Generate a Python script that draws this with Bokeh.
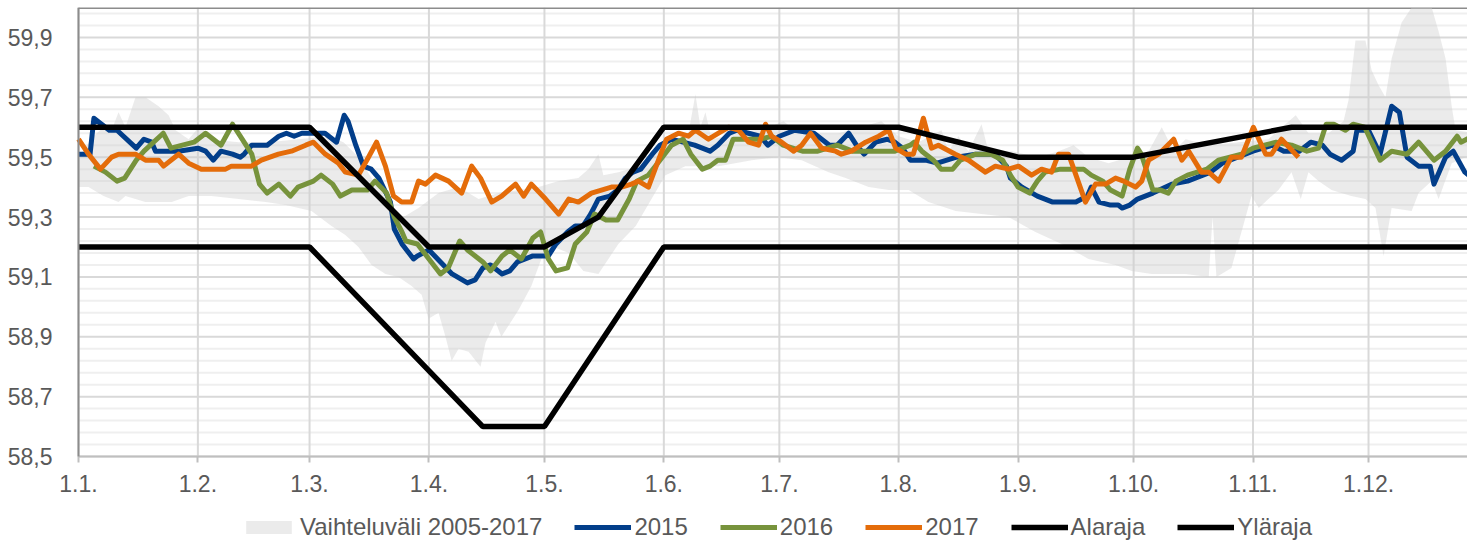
from bokeh.plotting import figure
from bokeh.models import Range1d, FixedTicker, CustomJSTickFormatter, Legend, LegendItem
from bokeh.embed import file_html
from bokeh.resources import INLINE

# ---------------- data (day of year, value in Hz) ----------------
month_ticks = [0, 31, 60, 91, 121, 152, 182, 213, 244, 274, 305, 335]
month_labels = ["1.1.", "1.2.", "1.3.", "1.4.", "1.5.", "1.6.", "1.7.", "1.8.",
                "1.9.", "1.10.", "1.11.", "1.12."]
y_ticks = [58.5, 58.7, 58.9, 59.1, 59.3, 59.5, 59.7, 59.9]
y_min, y_max = 58.5, 60.0
x_end = 360.7

band_up_day = [0, 3.9, 6.5, 8.3, 10.4, 12.2, 14.8, 17.4, 20.8, 23.4,
               25.2, 28.6, 31.9, 33.8, 41.6, 49.3, 57.1, 64.9, 68.8, 72.7,
               76.6, 80.5, 84.4, 88.3, 93.5, 98.7, 103.9, 109.1, 114.3, 119.5,
               124.7, 129.8, 132.4, 135.0, 136.3, 140.2, 145.4, 150.6, 155.8, 158.4,
               160.2, 161.5, 162.8, 164.4, 171.4, 179.2, 183.1, 187.0, 197.4, 208.5,
               212.9, 218.1, 224.1, 225.9, 228.5, 231.1, 234.5, 236.3, 242.3, 249.3,
               254.5, 258.4, 262.3, 267.5, 272.7, 277.9, 281.3, 284.4, 287.5, 293.5,
               301.3, 309.0, 316.1, 319.4, 324.6, 328.5, 329.8, 331.6, 334.2, 335.8,
               337.6, 339.4, 341.0, 343.6, 346.2, 351.4, 353.2, 355.0, 356.6, 357.6,
               362.8]
band_up_val = [59.50, 59.57, 59.60, 59.58, 59.65, 59.60, 59.70, 59.70, 59.67, 59.64,
               59.59, 59.56, 59.61, 59.56, 59.55, 59.55, 59.56, 59.57, 59.55, 59.50,
               59.42, 59.35, 59.30, 59.33, 59.38, 59.40, 59.36, 59.38, 59.39, 59.40,
               59.42, 59.43, 59.46, 59.51, 59.44, 59.45, 59.47, 59.53, 59.56, 59.58,
               59.71, 59.60, 59.65, 59.56, 59.58, 59.60, 59.62, 59.58, 59.58, 59.62,
               59.57, 59.55, 59.59, 59.52, 59.57, 59.52, 59.61, 59.52, 59.52, 59.50,
               59.52, 59.54, 59.50, 59.48, 59.50, 59.52, 59.60, 59.52, 59.56, 59.54,
               59.55, 59.56, 59.64, 59.58, 59.58, 59.62, 59.69, 59.89, 59.89, 59.79,
               59.74, 59.70, 59.83, 59.95, 60.00, 60.00, 59.92, 59.83, 59.67, 59.59,
               59.58]
band_low_day = [0, 2.6, 6.5, 10.4, 12.2, 17.4, 24.2, 28.6, 34.5, 41.6,
                48.6, 53.8, 60.5, 65.7, 69.3, 72.7, 76.1, 79.7, 83.1, 86.5,
                89.1, 90.9, 93.5, 95.3, 96.9, 98.7, 101.3, 104.4, 105.7, 108.3,
                109.8, 114.3, 117.6, 120.2, 123.4, 127.3, 131.1, 135.0, 137.6, 140.2,
                144.7, 148.8, 152.4, 157.6, 166.2, 174.8, 181.8, 187.8, 194.8, 199.2,
                205.2, 210.4, 215.6, 220.7, 227.8, 234.5, 241.5, 248.5, 255.3, 262.3,
                269.3, 273.5, 278.7, 287.5, 293.5, 294.5, 295.5, 299.4, 302.0, 304.6,
                306.5, 309.0, 311.6, 315.0, 317.4, 319.4, 322.0, 325.4, 330.5, 334.2,
                336.8, 338.9, 341.0, 346.2, 348.0, 351.4, 353.2, 356.6, 360.2, 362.8]
band_low_val = [59.40, 59.40, 59.37, 59.35, 59.37, 59.35, 59.35, 59.37, 59.37, 59.36,
                59.35, 59.34, 59.32, 59.27, 59.24, 59.20, 59.14, 59.11, 59.10, 59.07,
                59.04, 58.96, 58.98, 58.90, 58.82, 58.86, 58.85, 58.80, 58.88, 58.95,
                58.90, 58.99, 59.07, 59.16, 59.20, 59.18, 59.12, 59.11, 59.16, 59.21,
                59.27, 59.36, 59.44, 59.47, 59.47, 59.49, 59.50, 59.49, 59.45, 59.43,
                59.40, 59.39, 59.39, 59.35, 59.32, 59.31, 59.30, 59.25, 59.21, 59.16,
                59.14, 59.12, 59.11, 59.11, 59.10, 59.30, 59.10, 59.13, 59.25, 59.37,
                59.33, 59.36, 59.39, 59.45, 59.36, 59.45, 59.42, 59.39, 59.37, 59.36,
                59.33, 59.17, 59.33, 59.32, 59.38, 59.42, 59.36, 59.48, 59.50, 59.51]

y2015_day = [0, 3, 4, 6, 8, 10, 15, 17, 19, 20, 23, 26, 31, 33, 35, 37, 40, 42, 43, 45,
             49, 52, 54, 56, 58, 61, 64, 67, 69, 70, 72, 74, 76, 78, 81, 82, 84, 87, 88, 91,
             94, 97, 101, 103, 105, 107, 110, 112, 114, 116, 118, 122, 124, 127, 129, 131,
             133, 135, 138, 140, 142, 144, 146, 149, 151, 154, 157, 160, 164, 166, 169, 171,
             174, 177, 179, 182, 186, 191, 195, 197, 200, 202, 204, 207, 210, 212, 214, 216,
             220, 223, 228, 233, 238, 241, 242, 245, 249, 253, 259, 262, 263, 265, 268, 270,
             271, 273, 275, 279, 284, 288, 292, 294, 297, 301, 305, 310, 313, 317, 320, 323,
             325, 328, 331, 332, 335, 338, 341, 343, 345, 348, 351, 352, 355, 357, 360, 363]
y2015_val = [59.51, 59.51, 59.63, 59.61, 59.59, 59.59, 59.53, 59.56, 59.55, 59.52,
             59.52, 59.52, 59.53, 59.52, 59.49, 59.52, 59.51, 59.50, 59.51, 59.54,
             59.54, 59.57, 59.58, 59.57, 59.58, 59.58, 59.58, 59.55, 59.64, 59.62,
             59.54, 59.47, 59.46, 59.43, 59.35, 59.26, 59.21, 59.16, 59.17, 59.19,
             59.15, 59.11, 59.08, 59.09, 59.13, 59.14, 59.11, 59.12, 59.15, 59.16,
             59.17, 59.17, 59.21, 59.25, 59.27, 59.27, 59.31, 59.36, 59.37, 59.39,
             59.43, 59.45, 59.46, 59.51, 59.54, 59.56, 59.55, 59.54, 59.52, 59.54,
             59.58, 59.59, 59.58, 59.57, 59.54, 59.57, 59.59, 59.58, 59.54, 59.54,
             59.58, 59.54, 59.51, 59.55, 59.56, 59.55, 59.53, 59.49, 59.49, 59.48,
             59.50, 59.51, 59.51, 59.47, 59.43, 59.40, 59.37, 59.35, 59.35, 59.37,
             59.40, 59.35, 59.34, 59.34, 59.33, 59.34, 59.36, 59.38, 59.41, 59.42,
             59.44, 59.45, 59.48, 59.50, 59.52, 59.54, 59.52, 59.52, 59.55, 59.54,
             59.51, 59.49, 59.52, 59.59, 59.59, 59.51, 59.67, 59.65, 59.50, 59.47,
             59.47, 59.41, 59.50, 59.52, 59.45, 59.42]

y2016_day = [4, 7, 10, 12, 15, 17, 22, 24, 27, 30, 33, 37, 40, 42, 45, 47, 49, 52, 55, 57,
             61, 63, 66, 68, 71, 75, 77, 80, 82, 84, 85, 88, 91, 94, 96, 99, 101, 105, 107, 110,
             112, 115, 118, 120, 122, 124, 127, 129, 132, 134, 137, 140, 143, 145, 148, 151,
             154, 157, 159, 162, 164, 166, 168, 170, 174, 177, 180, 183, 188, 192, 197, 201,
             205, 212, 216, 217, 219, 222, 224, 227, 229, 233, 237, 240, 242, 244, 247, 249,
             251, 255, 261, 263, 266, 268, 271, 273, 275, 276, 279, 281, 283, 285, 288, 293,
             296, 299, 302, 305, 308, 311, 315, 319, 322, 324, 326, 329, 331, 334, 338, 341,
             345, 348, 352, 355, 358, 359, 362, 363]
y2016_val = [59.47, 59.45, 59.42, 59.43, 59.49, 59.52, 59.58, 59.53, 59.54, 59.55,
             59.58, 59.54, 59.61, 59.57, 59.51, 59.41, 59.38, 59.41, 59.37, 59.40,
             59.42, 59.44, 59.41, 59.37, 59.39, 59.39, 59.42, 59.38, 59.30, 59.25,
             59.22, 59.21, 59.16, 59.11, 59.13, 59.22, 59.19, 59.15, 59.12, 59.17,
             59.19, 59.16, 59.23, 59.25, 59.16, 59.12, 59.13, 59.21, 59.25, 59.31,
             59.29, 59.29, 59.36, 59.42, 59.44, 59.49, 59.54, 59.56, 59.51, 59.46,
             59.47, 59.49, 59.49, 59.56, 59.56, 59.56, 59.57, 59.54, 59.52, 59.52,
             59.54, 59.52, 59.52, 59.52, 59.54, 59.55, 59.52, 59.49, 59.46, 59.46,
             59.49, 59.51, 59.51, 59.49, 59.44, 59.40, 59.38, 59.42, 59.45, 59.46,
             59.46, 59.44, 59.42, 59.39, 59.37, 59.46, 59.53, 59.51, 59.39, 59.39,
             59.38, 59.42, 59.44, 59.46, 59.49, 59.50, 59.51, 59.53, 59.54, 59.55,
             59.54, 59.52, 59.53, 59.61, 59.61, 59.59, 59.61, 59.60, 59.49, 59.52,
             59.51, 59.55, 59.49, 59.52, 59.57, 59.55, 59.57, 59.56]

y2017_day = [0, 2.6, 5.7, 8.6, 10.4, 14.8, 17.4, 20.8, 22.1, 26.0,
             28.6, 31.9, 38.2, 39.7, 44.9, 47.5, 51.9, 55.3, 59.0, 61.0,
             64.1, 67.5, 69.3, 72.7, 75.3, 77.4, 79.7, 81.8, 83.9, 86.5,
             88.3, 90.1, 92.7, 96.1, 99.5, 102.1, 104.4, 107.3, 109.9, 113.5,
             115.6, 117.6, 121.3, 124.7, 127.3, 129.8, 133.2, 135.8, 138.4, 141.0,
             143.6, 145.4, 148.0, 150.6, 152.7, 155.8, 158.4, 160.2, 163.6, 166.2,
             168.8, 171.4, 174.0, 176.6, 178.4, 180.0, 182.6, 185.7, 187.8, 190.1,
             193.0, 196.6, 198.1, 200.7, 204.4, 207.8, 210.4, 212.2, 214.8, 216.8,
             219.4, 221.5, 223.3, 227.7, 231.1, 235.5, 238.1, 241.5, 244.1, 247.5,
             250.1, 252.7, 254.5, 257.1, 261.5, 264.1, 266.7, 269.3, 271.4, 274.5,
             276.1, 277.9, 280.5, 284.4, 286.5, 288.3, 291.6, 293.5, 296.1, 299.4,
             302.0, 305.1, 308.3, 309.8, 312.4, 316.8]
y2017_val = [59.56, 59.51, 59.46, 59.50, 59.51, 59.51, 59.49, 59.49, 59.47, 59.51,
             59.48, 59.46, 59.46, 59.47, 59.47, 59.49, 59.51, 59.52, 59.54, 59.55,
             59.51, 59.48, 59.45, 59.44, 59.50, 59.55, 59.47, 59.37, 59.35, 59.35,
             59.42, 59.41, 59.44, 59.42, 59.38, 59.47, 59.43, 59.35, 59.37, 59.41,
             59.37, 59.41, 59.36, 59.31, 59.36, 59.35, 59.38, 59.39, 59.40, 59.40,
             59.41, 59.42, 59.40, 59.49, 59.56, 59.58, 59.57, 59.59, 59.56, 59.58,
             59.60, 59.59, 59.55, 59.54, 59.61, 59.57, 59.55, 59.52, 59.54, 59.58,
             59.53, 59.52, 59.51, 59.52, 59.55, 59.57, 59.59, 59.53, 59.51, 59.51,
             59.63, 59.53, 59.54, 59.51, 59.49, 59.45, 59.47, 59.46, 59.47, 59.44,
             59.46, 59.45, 59.51, 59.51, 59.35, 59.41, 59.41, 59.43, 59.42, 59.40,
             59.42, 59.49, 59.51, 59.56, 59.49, 59.52, 59.45, 59.45, 59.42, 59.50,
             59.50, 59.60, 59.51, 59.51, 59.56, 59.50]

alaraja_day = [0, 60, 105, 121, 152, 366]
alaraja_val = [59.2, 59.2, 58.6, 58.6, 59.2, 59.2]
ylaraja_day = [0, 60, 91, 121, 135, 152, 213, 244, 274, 315, 366]
ylaraja_val = [59.6, 59.6, 59.2, 59.2, 59.3, 59.6, 59.6, 59.5, 59.5, 59.6, 59.6]

# ---------------- layout / styling ----------------
FONT = "Liberation Sans"
TXT = "#595959"
FS = "23px"

WIDTH, HEIGHT, TOP = 1467, 542, 7
PLOT_W, PLOT_H = 1389, 449          # pixels of the 0..x_end and 58.5..60.0 data area
LEFT = WIDTH - PLOT_W               # room for the y labels, kept inside the frame
frame_h = HEIGHT - TOP
x_lo = -x_end * LEFT / PLOT_W
y_lo = y_max - (y_max - y_min) * frame_h / PLOT_H

p = figure(width=WIDTH, height=HEIGHT, output_backend="svg", toolbar_location=None,
           x_range=Range1d(x_lo, x_end), y_range=Range1d(y_lo, y_max),
           min_border_left=0, min_border_right=0, min_border_top=TOP, min_border_bottom=0)
p.outline_line_color = None
p.background_fill_color = "white"
p.xgrid.visible = False
p.ygrid.visible = False

# x axis fixed at 58.5
p.xaxis.fixed_location = y_min
p.xaxis.bounds = (0, x_end)
p.xaxis.ticker = FixedTicker(ticks=month_ticks)
p.xaxis.major_label_overrides = {t: l for t, l in zip(month_ticks, month_labels)}
p.xaxis.axis_line_color = "#bfbfbf"
p.xaxis.axis_line_width = 2
p.xaxis.major_tick_line_color = "#bfbfbf"
p.xaxis.major_tick_line_width = 2
p.xaxis.major_tick_out = 6
p.xaxis.major_tick_in = 0
p.xaxis.minor_tick_line_color = None
p.xaxis.major_label_standoff = 12

# y axis fixed at day 0
y_minor = [round(t + 0.04 * k, 2) for t in y_ticks for k in range(1, 5)]
p.yaxis.fixed_location = 0
p.yaxis.ticker = FixedTicker(ticks=y_ticks, minor_ticks=y_minor)
p.yaxis.bounds = (y_min, y_max)
p.yaxis.formatter = CustomJSTickFormatter(code="return tick.toFixed(1).replace('.', ',');")
p.yaxis.axis_line_color = "#8c8c8c"
p.yaxis.axis_line_width = 2
p.yaxis.major_tick_line_color = None
p.yaxis.minor_tick_line_color = None
p.yaxis.major_label_standoff = 20

for ax in (p.xaxis, p.yaxis):
    ax.major_label_text_font = FONT
    ax.major_label_text_font_size = FS
    ax.major_label_text_color = TXT

# grid lines (limited to the data area)
minor_y = [v for v in y_minor if v < y_max]
p.segment(x0=[0] * len(minor_y), x1=[x_end] * len(minor_y), y0=minor_y, y1=minor_y,
          line_color="#efefef", line_width=2, level="underlay")
p.segment(x0=[0] * len(y_ticks), x1=[x_end] * len(y_ticks), y0=y_ticks, y1=y_ticks,
          line_color="#d9d9d9", line_width=2, level="underlay")
p.segment(x0=month_ticks, x1=month_ticks, y0=[y_min] * len(month_ticks),
          y1=[y_max] * len(month_ticks), line_color="#d9d9d9", line_width=2, level="underlay")
p.segment(x0=[0], x1=[x_end], y0=[y_max], y1=[y_max], line_color="#8c8c8c", line_width=3)

# band
band = p.patch(x=band_up_day + band_low_day[::-1], y=band_up_val + band_low_val[::-1],
               fill_color="#cccccc", fill_alpha=0.4, line_color=None)

lw = 5
r15 = p.line(y2015_day, y2015_val, line_color="#023e8a", line_width=lw, line_join="round")
r16 = p.line(y2016_day, y2016_val, line_color="#77933c", line_width=lw, line_join="round")
r17 = p.line(y2017_day, y2017_val, line_color="#e46c0a", line_width=lw, line_join="round")
ra = p.line(alaraja_day, alaraja_val, line_color="black", line_width=5.5)
ry = p.line(ylaraja_day, ylaraja_val, line_color="black", line_width=5.5)

legend = Legend(items=[
    LegendItem(label="Vaihteluväli 2005-2017", renderers=[band]),
    LegendItem(label="2015", renderers=[r15]),
    LegendItem(label="2016", renderers=[r16]),
    LegendItem(label="2017", renderers=[r17]),
    LegendItem(label="Alaraja", renderers=[ra]),
    LegendItem(label="Yläraja", renderers=[ry]),
], orientation="horizontal", location=(240, 1))
legend.label_text_font = FONT
legend.label_text_font_size = "24px"
legend.label_text_color = TXT
legend.glyph_width = 57
legend.glyph_height = 16
legend.label_standoff = 3
legend.spacing = 32
legend.padding = 0
legend.margin = 0
legend.border_line_color = None
legend.background_fill_color = None
p.add_layout(legend)

open("out.html", "w").write(file_html(p, INLINE))
